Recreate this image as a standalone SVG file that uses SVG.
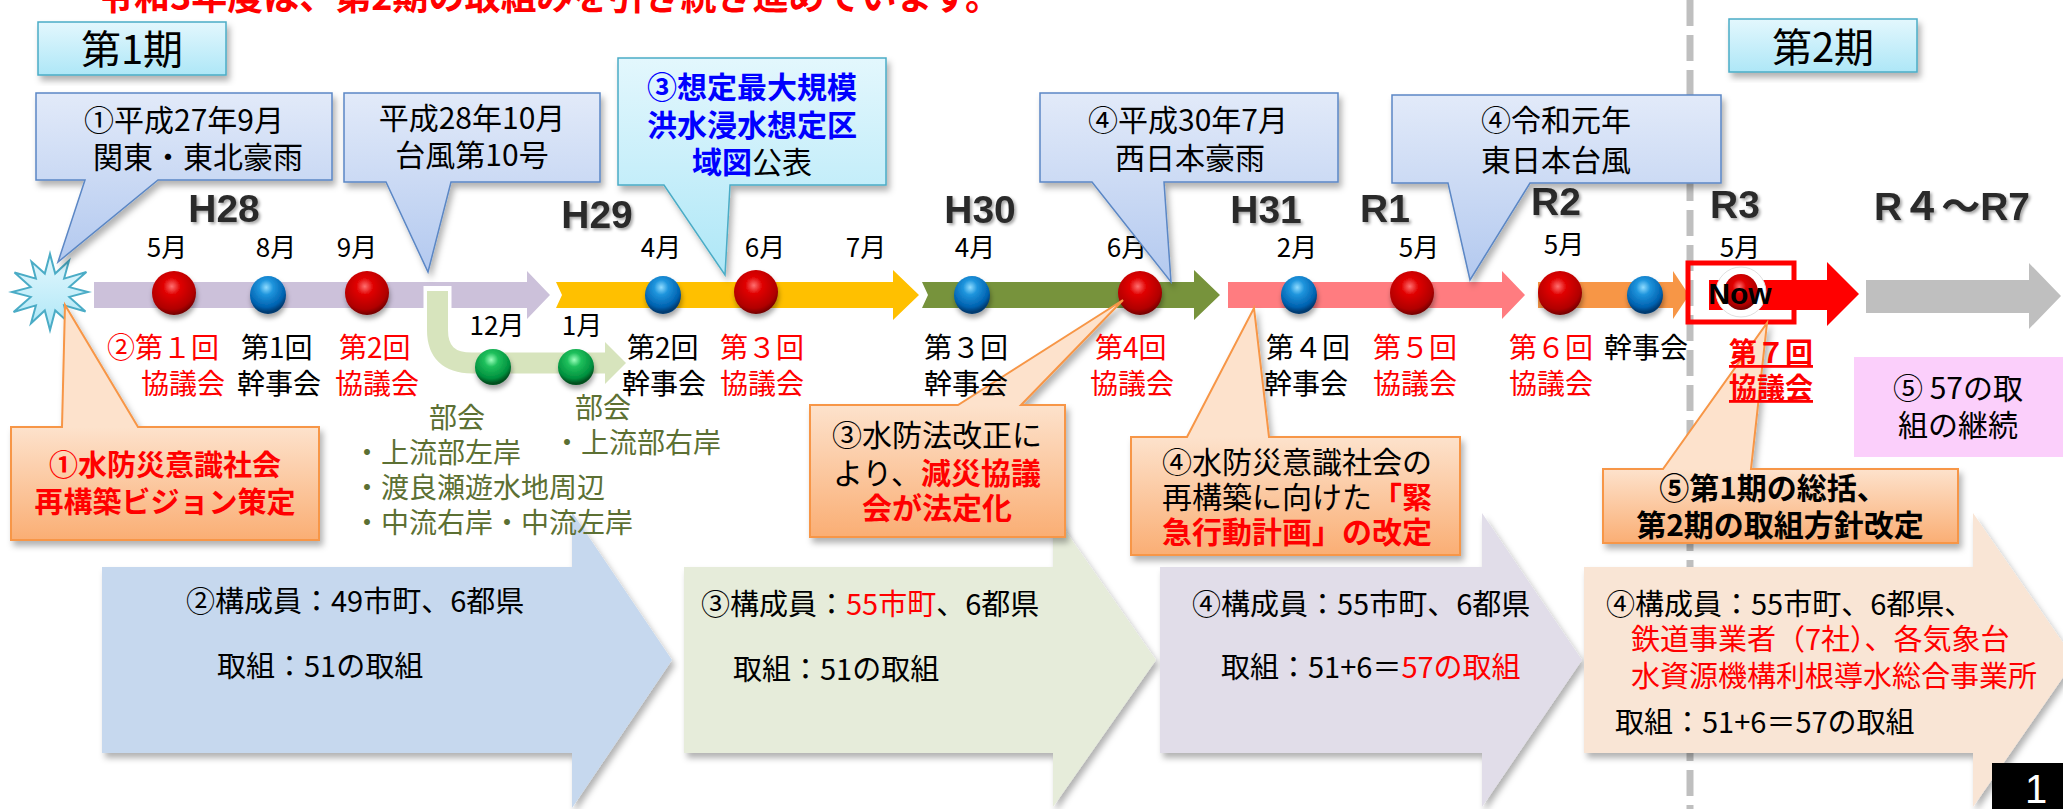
<svg xmlns="http://www.w3.org/2000/svg" width="2063" height="809" viewBox="0 0 2063 809">
<defs>
<style>
.j{font-family:"Noto Sans CJK JP","Noto Sans",sans-serif}
.b{font-weight:bold}
.red{fill:#ff0000}
.blk{fill:#000}
.olv{fill:#5c7033}
.blu{fill:#0000ff}
.mon{font-family:"Noto Sans CJK JP",sans-serif;font-size:26px;fill:#000;text-anchor:middle}
.mt{font-family:"Noto Sans CJK JP",sans-serif;font-size:28px}
.yr{font-family:"Liberation Sans","Noto Sans CJK JP",sans-serif;font-weight:bold;font-size:39px;fill:#2b2b2b;text-anchor:middle}
.cb{stroke:#5b87c5;stroke-width:1.5}
.cc{stroke:#4bacc6;stroke-width:1.5}
.co{stroke:#f79646;stroke-width:2}
.mid{text-anchor:middle}
</style>
<linearGradient id="gBlue" x1="0" y1="0" x2="0" y2="1"><stop offset="0" stop-color="#e2eaf9"/><stop offset="1" stop-color="#b3c9ef"/></linearGradient>
<linearGradient id="gCyan" x1="0" y1="0" x2="0" y2="1"><stop offset="0" stop-color="#e3f7fd"/><stop offset="1" stop-color="#aee7f7"/></linearGradient>
<linearGradient id="gO1" gradientUnits="userSpaceOnUse" x1="0" y1="427" x2="0" y2="540"><stop offset="0" stop-color="#fde2cc"/><stop offset="1" stop-color="#faae74"/></linearGradient>
<linearGradient id="gO3" gradientUnits="userSpaceOnUse" x1="0" y1="405" x2="0" y2="537"><stop offset="0" stop-color="#fde2cc"/><stop offset="1" stop-color="#faae74"/></linearGradient>
<linearGradient id="gO4" gradientUnits="userSpaceOnUse" x1="0" y1="437" x2="0" y2="555"><stop offset="0" stop-color="#fde2cc"/><stop offset="1" stop-color="#faae74"/></linearGradient>
<linearGradient id="gO5" gradientUnits="userSpaceOnUse" x1="0" y1="469" x2="0" y2="543"><stop offset="0" stop-color="#fde2cc"/><stop offset="1" stop-color="#faae74"/></linearGradient>
<radialGradient id="bRed" cx="0.45" cy="0.35" r="0.65"><stop offset="0" stop-color="#ff7070"/><stop offset="0.3" stop-color="#e00000"/><stop offset="0.8" stop-color="#b00000"/><stop offset="1" stop-color="#700000"/></radialGradient>
<radialGradient id="bBlue" cx="0.45" cy="0.3" r="0.65"><stop offset="0" stop-color="#8fdcff"/><stop offset="0.3" stop-color="#1f95dd"/><stop offset="0.8" stop-color="#0062b0"/><stop offset="1" stop-color="#003a70"/></radialGradient>
<radialGradient id="bGreen" cx="0.45" cy="0.3" r="0.65"><stop offset="0" stop-color="#9cffbc"/><stop offset="0.3" stop-color="#1fc05c"/><stop offset="0.8" stop-color="#00903e"/><stop offset="1" stop-color="#00501f"/></radialGradient>
<filter id="sh" x="-10%" y="-10%" width="130%" height="130%"><feDropShadow dx="3" dy="5" stdDeviation="3" flood-color="#000" flood-opacity="0.3"/></filter>
<filter id="bs" x="-30%" y="-30%" width="160%" height="170%"><feDropShadow dx="1" dy="4" stdDeviation="2.5" flood-color="#000" flood-opacity="0.35"/></filter>
<filter id="ts" x="-10%" y="-10%" width="130%" height="140%"><feDropShadow dx="2" dy="2" stdDeviation="1.5" flood-color="#000" flood-opacity="0.35"/></filter>
</defs>

<rect width="2063" height="809" fill="#fff"/>

<!-- title -->
<text class="j b red" x="98" y="10" font-size="36">令和3年度は、第2期の取組みを引き続き進めています。</text>

<!-- dashed divider -->
<line x1="1690" y1="0" x2="1690" y2="809" stroke="#bfbfbf" stroke-width="7" stroke-dasharray="26 9"/>

<!-- period labels -->
<g id="period1">
<rect x="38" y="22" width="188" height="53" fill="url(#gCyan)" class="cc" filter="url(#sh)"/>
<text class="j mid" x="132" y="64" font-size="40">第1期</text>
</g>
<g id="period2">
<rect x="1729" y="19" width="188" height="53" fill="url(#gCyan)" class="cc" filter="url(#sh)"/>
<text class="j mid" x="1823" y="62" font-size="40">第2期</text>
</g>

<!-- big bottom arrows -->
<g id="phase-blue">
<path d="M102,567 H572 V512 L672,660 L572,808 V753 H102 Z" fill="#c6d8ee" filter="url(#sh)"/>
<text class="j" x="186" y="612" font-size="29">②構成員：49市町、6都県</text>
<text class="j" x="217" y="677" font-size="29">取組：51の取組</text>
</g>
<g id="phase-green">
<path d="M684,567 H1053 V513 L1156,660 L1053,807 V753 H684 Z" fill="#e6ecda" filter="url(#sh)"/>
<text class="j" x="701" y="615" font-size="29">③構成員：<tspan class="red">55市町</tspan>、6都県</text>
<text class="j" x="733" y="680" font-size="29">取組：51の取組</text>
</g>
<g id="phase-purple">
<path d="M1160,567 H1482 V513 L1582,660 L1482,807 V753 H1160 Z" fill="#e1dde9" filter="url(#sh)"/>
<text class="j" x="1192" y="615" font-size="29">④構成員：55市町、6都県</text>
<text class="j" x="1221" y="678" font-size="29">取組：51+6＝<tspan class="red">57の取組</tspan></text>
</g>
<g id="phase-peach">
<path d="M1584,567 H1973 V513 L2075,660 L1973,807 V753 H1584 Z" fill="#f9e5d5" filter="url(#sh)"/>
<text class="j" x="1606" y="615" font-size="29">④構成員：55市町、6都県、</text>
<text class="j red" x="1631" y="650" font-size="29">鉄道事業者（7社）、各気象台</text>
<text class="j red" x="1631" y="687" font-size="29">水資源機構利根導水総合事業所</text>
<text class="j" x="1615" y="733" font-size="29">取組：51+6＝57の取組</text>
</g>

<!-- timeline connectors -->
<g id="connectors">
<path d="M94,282 H527 V271 L550,295 L527,319 V308 H94 Z" fill="#ccc1da"/>
<path d="M556,282 H893 V270 L919,295 L893,320 V308 H556 L562,295 Z" fill="#ffc000"/>
<path d="M922,282 H1194 V270 L1220,295 L1194,320 V308 H922 L928,295 Z" fill="#77933c"/>
<path d="M1228,282 H1502 V271 L1525,295 L1502,319 V308 H1228 Z" fill="#ff7c80"/>
<path d="M1538,282 H1673 V271 L1689,295 L1673,319 V308 H1538 Z" fill="#f79646"/>
<path d="M1709,280 H1827 V262 L1859,294 L1827,326 V310 H1709 Z" fill="#ff0000"/>
<path d="M1866,280 H2029 V263 L2061,296 L2029,329 V313 H1866 Z" fill="#bfbfbf"/>
<path d="M437.5,286 V330 Q437.5,363 472,363 H606" fill="none" stroke="#fff" stroke-width="28"/>
<path d="M437.5,291 V330 Q437.5,363 472,363 H606" fill="none" stroke="#d7e4bd" stroke-width="21"/>
<path d="M605,342 L626,363 L605,384 Z" fill="#d7e4bd"/>
</g>

<!-- Now box -->
<g id="now">
<rect x="1688" y="263" width="106" height="59" fill="none" stroke="#ff0000" stroke-width="5"/>
<circle cx="1741" cy="292" r="25" fill="#fff" stroke="#e0e0e0" stroke-width="1"/>
<ellipse cx="1741" cy="292" rx="17" ry="18" fill="url(#bRed)"/>
<text x="1740" y="304" font-family="Liberation Sans,sans-serif" font-weight="bold" font-size="30" text-anchor="middle">Now</text>
</g>

<!-- milestones -->
<g id="milestones" filter="url(#bs)">
<ellipse cx="174" cy="293" rx="22" ry="22" fill="url(#bRed)"/>
<ellipse cx="268" cy="295" rx="18" ry="19" fill="url(#bBlue)"/>
<ellipse cx="367" cy="293" rx="22" ry="22" fill="url(#bRed)"/>
<ellipse cx="663" cy="295" rx="18" ry="19" fill="url(#bBlue)"/>
<ellipse cx="756" cy="292" rx="22" ry="22" fill="url(#bRed)"/>
<ellipse cx="972" cy="295" rx="18" ry="19" fill="url(#bBlue)"/>
<ellipse cx="1140" cy="293" rx="22" ry="22" fill="url(#bRed)"/>
<ellipse cx="1299" cy="295" rx="18" ry="19" fill="url(#bBlue)"/>
<ellipse cx="1412" cy="293" rx="22" ry="22" fill="url(#bRed)"/>
<ellipse cx="1560" cy="293" rx="22" ry="22" fill="url(#bRed)"/>
<ellipse cx="1645" cy="295" rx="18" ry="19" fill="url(#bBlue)"/>
<ellipse cx="493" cy="367" rx="18" ry="18" fill="url(#bGreen)"/>
<ellipse cx="576" cy="367" rx="18" ry="18" fill="url(#bGreen)"/>
</g>

<!-- year labels -->
<g id="years" filter="url(#ts)">
<text class="yr" x="224" y="222">H28</text>
<text class="yr" x="597" y="228">H29</text>
<text class="yr" x="980" y="223">H30</text>
<text class="yr" x="1266" y="223">H31</text>
<text class="yr" x="1385" y="222">R1</text>
<text class="yr" x="1556" y="215">R2</text>
<text class="yr" x="1735" y="218">R3</text>
<text class="yr" x="1952" y="220">R４～R7</text>
</g>

<!-- month labels -->
<g id="months">
<text class="mon" x="167" y="257">5月</text>
<text class="mon" x="276" y="257">8月</text>
<text class="mon" x="357" y="257">9月</text>
<text class="mon" x="661" y="257">4月</text>
<text class="mon" x="765" y="257">6月</text>
<text class="mon" x="866" y="257">7月</text>
<text class="mon" x="975" y="257">4月</text>
<text class="mon" x="1127" y="257">6月</text>
<text class="mon" x="1297" y="257">2月</text>
<text class="mon" x="1419" y="257">5月</text>
<text class="mon" x="1564" y="254">5月</text>
<text class="mon" x="1740" y="257">5月</text>
<text class="mon" x="497" y="335">12月</text>
<text class="mon" x="582" y="335">1月</text>
</g>

<!-- starburst -->
<g id="burst">
<polygon points="50,254 55.2,273.6 69,260.7 64.1,278.6 86.4,272 69.3,287.1 88,292 69.3,296.9 85.5,311.5 64.1,305.4 68.5,322.4 55.2,310.4 50,330 44.8,310.4 31,323.3 35.9,305.4 13.6,312 30.7,296.9 12,292 30.7,287.1 14.5,272.5 35.9,278.6 31.5,261.6 44.8,273.6" fill="url(#gCyan)" stroke="#4bacc6" stroke-width="2"/>
</g>

<!-- upper callouts -->
<g id="callout-h27">
<path d="M36,93 H332 V180 H158 L58,262 L85,180 H36 Z" fill="url(#gBlue)" class="cb" filter="url(#sh)"/>
<text class="j mid" x="184" y="131" font-size="30">①平成27年9月</text>
<text class="j mid" x="198" y="168" font-size="30">関東・東北豪雨</text>
</g>
<g id="callout-h28">
<path d="M344,93 H600 V182 H451 L428,272 L386,182 H344 Z" fill="url(#gBlue)" class="cb" filter="url(#sh)"/>
<text class="j mid" x="472" y="129" font-size="30">平成28年10月</text>
<text class="j mid" x="472" y="166" font-size="30">台風第10号</text>
</g>
<g id="callout-map">
<path d="M618,58 H886 V185 H730 L725,275 L664,185 H618 Z" fill="url(#gCyan)" class="cc" filter="url(#sh)"/>
<text class="j b blu mid" x="752" y="98" font-size="30">③想定最大規模</text>
<text class="j b blu mid" x="752" y="136" font-size="30">洪水浸水想定区</text>
<text class="j mid" x="752" y="173" font-size="30"><tspan class="b blu">域図</tspan>公表</text>
</g>
<g id="callout-h30">
<path d="M1040,93 H1338 V182 H1164 L1171,282 L1092,182 H1040 Z" fill="url(#gBlue)" class="cb" filter="url(#sh)"/>
<text class="j mid" x="1188" y="131" font-size="30">④平成30年7月</text>
<text class="j mid" x="1190" y="169" font-size="30">西日本豪雨</text>
</g>
<g id="callout-r1">
<path d="M1392,95 H1721 V183 H1530 L1470,280 L1448,183 H1392 Z" fill="url(#gBlue)" class="cb" filter="url(#sh)"/>
<text class="j mid" x="1556" y="131" font-size="30">④令和元年</text>
<text class="j mid" x="1556" y="171" font-size="30">東日本台風</text>
</g>

<!-- lower callouts -->
<g id="callout-vision">
<path d="M11,427 H62 L65,305 L138,427 H319 V540 H11 Z" fill="url(#gO1)" class="co" filter="url(#sh)"/>
<text class="j b red mid" x="165" y="476" font-size="29">①水防災意識社会</text>
<text class="j b red mid" x="165" y="513" font-size="29">再構築ビジョン策定</text>
</g>
<g id="callout-law">
<path d="M810,405 H958 L1123,300 L1021,405 H1065 V537 H810 Z" fill="url(#gO3)" class="co" filter="url(#sh)"/>
<text class="j mid" x="937" y="446" font-size="30">③水防法改正に</text>
<text class="j mid" x="937" y="484" font-size="30">より、<tspan class="b red">減災協議</tspan></text>
<text class="j b red mid" x="937" y="519" font-size="30">会が法定化</text>
</g>
<g id="callout-plan">
<path d="M1131,437 H1187 L1254,308 L1269,437 H1460 V555 H1131 Z" fill="url(#gO4)" class="co" filter="url(#sh)"/>
<text class="j" x="1162" y="473" font-size="30">④水防災意識社会の</text>
<text class="j" x="1162" y="508" font-size="30">再構築に向けた<tspan class="b red">「緊</tspan></text>
<text class="j b red" x="1162" y="543" font-size="30">急行動計画」の改定</text>
</g>
<g id="callout-review">
<path d="M1603,469 H1663 L1767,323 L1751,469 H1958 V543 H1603 Z" fill="url(#gO5)" class="co" filter="url(#sh)"/>
<text class="j b mid" x="1773" y="499" font-size="30">⑤第1期の総括、</text>
<text class="j b mid" x="1780" y="536" font-size="30">第2期の取組方針改定</text>
</g>

<!-- meeting labels (drawn over the callout pointers) -->
<g id="meetings">
<text class="mt red" x="107" y="358">②第１回</text><text class="mt red" x="141" y="394">協議会</text>
<text class="mt" x="241" y="358">第1回</text><text class="mt" x="237" y="394">幹事会</text>
<text class="mt red" x="339" y="358">第2回</text><text class="mt red" x="335" y="394">協議会</text>
<text class="mt" x="627" y="358">第2回</text><text class="mt" x="622" y="394">幹事会</text>
<text class="mt red" x="720" y="358">第３回</text><text class="mt red" x="720" y="394">協議会</text>
<text class="mt" x="924" y="358">第３回</text><text class="mt" x="924" y="394">幹事会</text>
<text class="mt red" x="1095" y="358">第4回</text><text class="mt red" x="1090" y="394">協議会</text>
<text class="mt" x="1266" y="358">第４回</text><text class="mt" x="1264" y="394">幹事会</text>
<text class="mt red" x="1373" y="358">第５回</text><text class="mt red" x="1373" y="394">協議会</text>
<text class="mt red" x="1509" y="358">第６回</text><text class="mt red" x="1509" y="394">協議会</text>
<text class="mt" x="1604" y="358">幹事会</text>
<text class="mt b red mid" x="1771" y="363" text-decoration="underline">第７回</text>
<text class="mt b red mid" x="1771" y="398" text-decoration="underline">協議会</text>
</g>

<!-- sub-committee texts -->
<g id="bukai">
<text class="j olv mid" x="457" y="428" font-size="28">部会</text>
<text class="j olv" x="353" y="463" font-size="28">・上流部左岸</text>
<text class="j olv" x="353" y="498" font-size="28">・渡良瀬遊水地周辺</text>
<text class="j olv" x="353" y="533" font-size="28">・中流右岸・中流左岸</text>
<text class="j olv mid" x="603" y="418" font-size="28">部会</text>
<text class="j olv" x="553" y="453" font-size="28">・上流部右岸</text>
</g>

<!-- continuation box -->
<g id="continue">
<rect x="1854" y="357" width="209" height="100" fill="#fbcffb"/>
<text class="j mid" x="1958" y="399" font-size="30">⑤ 57の取</text>
<text class="j mid" x="1958" y="436" font-size="30">組の継続</text>
</g>

<!-- page number -->
<g id="page">
<rect x="1992" y="763" width="71" height="46" fill="#000"/>
<text x="2036" y="803" font-family="Liberation Sans,sans-serif" font-size="40" fill="#fff" text-anchor="middle">1</text>
</g>
</svg>
